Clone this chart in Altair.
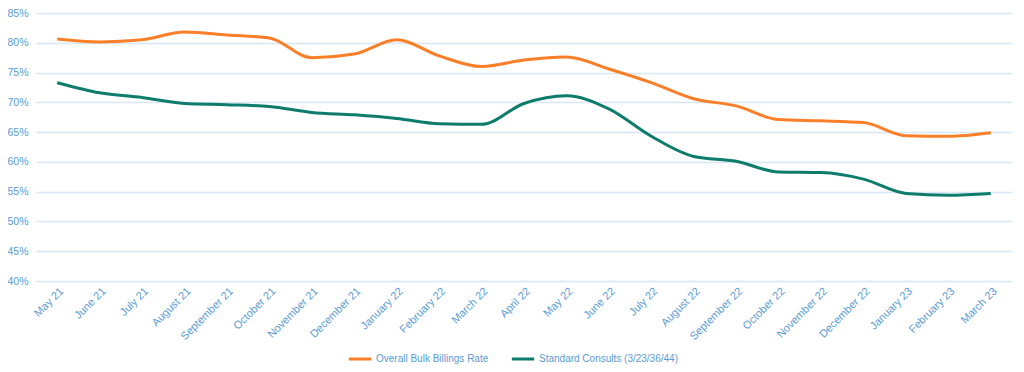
import altair as alt
import pandas as pd

months = ["May 21", "June 21", "July 21", "August 21", "September 21", "October 21",
          "November 21", "December 21", "January 22", "February 22", "March 22",
          "April 22", "May 22", "June 22", "July 22", "August 22", "September 22",
          "October 22", "November 22", "December 22", "January 23", "February 23", "March 23"]

overall = [80.65, 80.15, 80.5, 81.8, 81.3, 80.8, 77.5, 78.1, 80.5, 77.8, 76.0,
           77.1, 77.6, 75.6, 73.3, 70.6, 69.4, 67.1, 66.9, 66.6, 64.4, 64.3, 64.9]
standard = [73.3, 71.6, 70.8, 69.8, 69.6, 69.3, 68.3, 67.9, 67.3, 66.4, 66.3,
            69.8, 71.1, 68.9, 64.3, 60.9, 60.1, 58.3, 58.2, 57.1, 54.7, 54.4, 54.7]

series_names = ["Overall Bulk Billings Rate", "Standard Consults (3/23/36/44)"]
colors = ["#FA7F28", "#0E7C6B"]

rows = []
for m, a, b in zip(months, overall, standard):
    rows.append({"month": m, "series": series_names[0], "value": a / 100})
    rows.append({"month": m, "series": series_names[1], "value": b / 100})
df = pd.DataFrame(rows)

text_color = "#5B9BD5"
font = "Liberation Sans"

chart = alt.Chart(df).mark_line(strokeWidth=3, interpolate="monotone").encode(
    x=alt.X("month:N", sort=months, title=None,
            scale=alt.Scale(paddingOuter=0.5),
            axis=alt.Axis(labelAngle=-45, labelColor=text_color, labelFontSize=11,
                          labelFont=font, domain=False, ticks=False, grid=False,
                          labelPadding=4)),
    y=alt.Y("value:Q", title=None,
            scale=alt.Scale(domain=[0.40, 0.85], nice=False, zero=False),
            axis=alt.Axis(format=".0%", values=[0.40, 0.45, 0.50, 0.55, 0.60, 0.65, 0.70, 0.75, 0.80, 0.85],
                          labelColor=text_color, labelFontSize=10.5, labelFont=font,
                          domain=False, ticks=False, gridColor="#D9E7F4", gridWidth=1.5,
                          labelPadding=8)),
    color=alt.Color("series:N", sort=series_names,
                    scale=alt.Scale(domain=series_names, range=colors),
                    legend=alt.Legend(title=None, orient="none", direction="horizontal",
                                      legendX=311, legendY=333, symbolType="stroke",
                                      symbolSize=500, symbolStrokeWidth=3,
                                      labelColor=text_color, labelFontSize=10, labelFont=font,
                                      labelOffset=3, columnPadding=16)),
).properties(
    width=976, height=268,
    padding={"left": 28, "top": 5, "right": 4, "bottom": 86},
    autosize=alt.AutoSizeParams(type="none"),
).configure_view(stroke=None)

chart.save("out.html", embed_options={"renderer": "svg", "actions": False})
